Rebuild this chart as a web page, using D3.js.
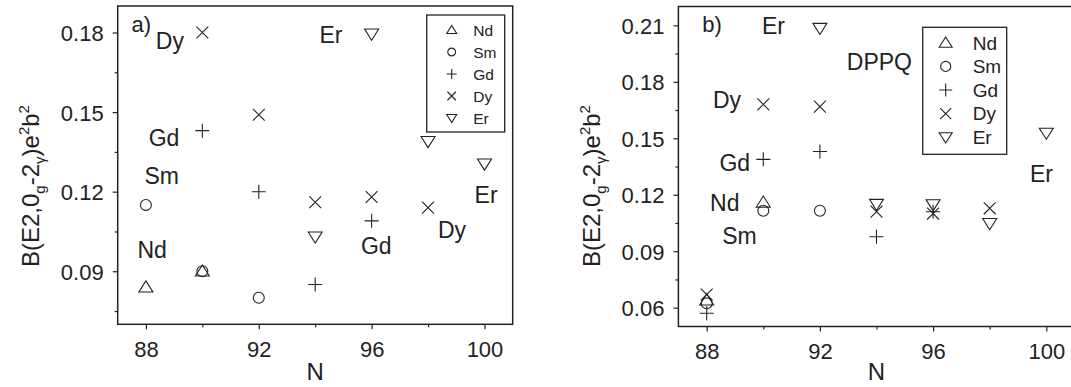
<!DOCTYPE html>
<html>
<head>
<meta charset="utf-8">
<script src="https://cdn.jsdelivr.net/npm/d3@7"></script>
<style>
  body { margin: 0; background: #fff; }
  svg { display: block; font-family: "Liberation Sans", Arial, sans-serif; }
</style>
</head>
<body>
<div id="chart"></div>
<script>
// tick values
const xTicks = [88, 92, 96, 100];
const xMinor = [90, 94, 98];
const yTicksA = [0.09, 0.12, 0.15, 0.18];
const yMinorA = [0.075, 0.105, 0.135, 0.165];
const yTicksB = [0.06, 0.09, 0.12, 0.15, 0.18, 0.21];
const yMinorB = [0.075, 0.105, 0.135, 0.165, 0.195];

// legend
const elements = ["Nd", "Sm", "Gd", "Dy", "Er"];
const shapes = ["triUp", "circle", "plus", "cross", "triDown"];

// panel a) values  [N, B(E2)]
const aNd = [[88, 0.084], [90, 0.090]];
const aSm = [[88, 0.115], [90, 0.090], [92, 0.080]];
const aGd = [[90, 0.143], [92, 0.120], [94, 0.085], [96, 0.109]];
const aDy = [[90, 0.180], [92, 0.149], [94, 0.116], [96, 0.118], [98, 0.114]];
const aEr = [[94, 0.103], [96, 0.1795], [98, 0.139], [100, 0.1305]];

// panel b) values  [N, B(E2)]
const bNd = [[88, 0.064], [90, 0.116]];
const bSm = [[88, 0.0623], [90, 0.1115], [92, 0.1115]];
const bGd = [[88, 0.057], [90, 0.1388], [92, 0.143], [94, 0.0977], [96, 0.111]];
const bDy = [[88, 0.067], [90, 0.168], [92, 0.1668], [94, 0.111], [96, 0.110], [98, 0.1128]];
const bEr = [[92, 0.2085], [94, 0.115], [96, 0.1148], [98, 0.1048], [100, 0.1528]];

// text annotations [text, N, B]
const aLabels = [["Dy", 88.35, 0.1737], ["Er", 94.15, 0.1759],
  ["Gd", 88.1, 0.1373], ["Sm", 87.95, 0.1228], ["Nd", 87.7, 0.0949],
  ["Gd", 95.62, 0.0965], ["Dy", 98.35, 0.1025], ["Er", 99.65, 0.1158]];
const bLabels = [["Er", 89.95, 0.2052], ["DPPQ", 92.95, 0.1863],
  ["Dy", 88.22, 0.1659], ["Gd", 88.45, 0.1328], ["Nd", 88.12, 0.1115],
  ["Sm", 88.55, 0.0937], ["Er", 99.42, 0.1269]];
const aTag = ["a)", 87.49, 0.1803];
const bTag = ["b)", 87.84, 0.2066];

const width = 1071, height = 387;
const ink = "#222";

const svg = d3.select("#chart").append("svg")
  .attr("width", width).attr("height", height);
svg.append("rect").attr("width", width).attr("height", height).attr("fill", "#fff");

// path for a marker shape, s = half size
function shapePath(type, s) {
  const h = s * 0.86;
  switch (type) {
    case "triUp": return `M${-s},${h * 0.8}L${s},${h * 0.8}L0,${-h * 1.05}Z`;
    case "triDown": return `M${-s},${-h * 0.8}L${s},${-h * 0.8}L0,${h * 1.05}Z`;
    case "circle": return d3.arc()({ innerRadius: 0, outerRadius: s * 0.78, startAngle: 0, endAngle: 2 * Math.PI });
    case "plus": return `M${-s},0L${s},0M0,${-s}L0,${s}`;
    case "cross": { const c = s * 0.85; return `M${-c},${-c}L${c},${c}M${-c},${c}L${c},${-c}`; }
  }
}

function drawPanel(cfg) {
  const x = d3.scaleLinear().domain([87, 101]).range(cfg.xr);
  const y = d3.scaleLinear().domain(cfg.yd).range(cfg.yr);
  const g = svg.append("g");

  // axes
  const fmt = d3.format(".2f");
  const xa = g.append("g").attr("transform", `translate(0,${cfg.yr[0]})`)
    .call(d3.axisBottom(x).tickValues(xTicks).tickSize(5).tickPadding(7));
  g.append("g").attr("transform", `translate(0,${cfg.yr[0]})`)
    .call(d3.axisBottom(x).tickValues(xMinor).tickSize(3).tickFormat(""));
  const ya = g.append("g").attr("transform", `translate(${cfg.xr[0]},0)`)
    .call(d3.axisLeft(y).tickValues(cfg.yTicks).tickSize(5).tickPadding(9).tickFormat(fmt));
  g.append("g").attr("transform", `translate(${cfg.xr[0]},0)`)
    .call(d3.axisLeft(y).tickValues(cfg.yMinor).tickSize(3).tickFormat(""));
  g.selectAll(".domain").remove();
  g.selectAll(".tick line").attr("stroke", ink).attr("stroke-width", 1.2);
  g.selectAll(".tick text").attr("fill", "#222").style("font-size", "22px");
  xa.selectAll(".tick text").attr("dy", "0.92em");
  ya.selectAll(".tick text").attr("dy", "0.36em");

  // frame
  g.append("rect")
    .attr("x", cfg.xr[0]).attr("y", cfg.yr[1])
    .attr("width", cfg.xr[1] - cfg.xr[0]).attr("height", cfg.yr[0] - cfg.yr[1])
    .attr("fill", "none").attr("stroke", ink).attr("stroke-width", 1.5);

  // axis titles
  g.append("text").attr("x", x(94)).attr("y", 380)
    .attr("text-anchor", "middle").attr("fill", ink)
    .style("font-size", "24px").text("N");

  const yt = g.append("text")
    .attr("transform", `translate(${cfg.titleX},267) rotate(-90)`)
    .attr("fill", ink).style("font-size", "24px");
  yt.append("tspan").text("B(E2,0");
  yt.append("tspan").attr("dy", 6).style("font-size", "15px").text("g");
  yt.append("tspan").attr("dy", -6).text("-2");
  yt.append("tspan").attr("dy", 6).style("font-size", "15px").text("γ");
  yt.append("tspan").attr("dy", -6).text(")e");
  yt.append("tspan").attr("dy", -10).style("font-size", "15px").text("2");
  yt.append("tspan").attr("dy", 10).text("b");
  yt.append("tspan").attr("dy", -10).style("font-size", "15px").text("2");

  // data markers
  cfg.series.forEach((pts, i) => {
    g.selectAll(null).data(pts).enter().append("path")
      .attr("transform", (d) => `translate(${x(d[0])},${y(d[1])})`)
      .attr("d", shapePath(shapes[i], 7))
      .attr("fill", "none").attr("stroke", ink).attr("stroke-width", 1.1);
  });

  // annotations
  g.selectAll(null).data(cfg.labels).enter().append("text")
    .attr("x", (d) => x(d[1])).attr("y", (d) => y(d[2]))
    .attr("fill", ink).style("font-size", "23px")
    .text((d) => d[0]);
  g.append("text").attr("x", x(cfg.tag[1])).attr("y", y(cfg.tag[2]))
    .attr("fill", ink).style("font-size", "22px").text(cfg.tag[0]);

  // legend
  const L = cfg.legend;
  const lg = g.append("g");
  lg.append("rect").attr("x", L.x).attr("y", L.y).attr("width", L.w).attr("height", L.h)
    .attr("fill", "#fff").attr("stroke", ink).attr("stroke-width", 1.3);
  elements.forEach((el, i) => {
    const cy = L.y + L.top + i * L.step;
    lg.append("path")
      .attr("transform", `translate(${L.x + L.sx},${cy})`)
      .attr("d", shapePath(shapes[i], L.ms))
      .attr("fill", "none").attr("stroke", ink).attr("stroke-width", 1.1);
    lg.append("text").attr("x", L.x + L.tx).attr("y", cy).attr("dy", "0.36em")
      .attr("fill", ink).style("font-size", L.fs).text(el);
  });
}

drawPanel({
  xr: [117.7, 512.7], yd: [0.07, 0.19], yr: [324.3, 6],
  yTicks: yTicksA, yMinor: yMinorA, titleX: 39,
  series: [aNd, aSm, aGd, aDy, aEr], labels: aLabels, tag: aTag,
  legend: { x: 426.7, y: 15, w: 78, h: 117, top: 15, step: 22, sx: 25, tx: 46.5, ms: 5, fs: "15.5px" }
});

drawPanel({
  xr: [678.4, 1074.6], yd: [0.05, 0.22], yr: [326.5, 6.5],
  yTicks: yTicksB, yMinor: yMinorB, titleX: 600,
  series: [bNd, bSm, bGd, bDy, bEr], labels: bLabels, tag: bTag,
  legend: { x: 922.7, y: 27.3, w: 84, h: 127, top: 15.5, step: 23.6, sx: 23, tx: 50, ms: 6.5, fs: "19px" }
});
</script>
</body>
</html>
